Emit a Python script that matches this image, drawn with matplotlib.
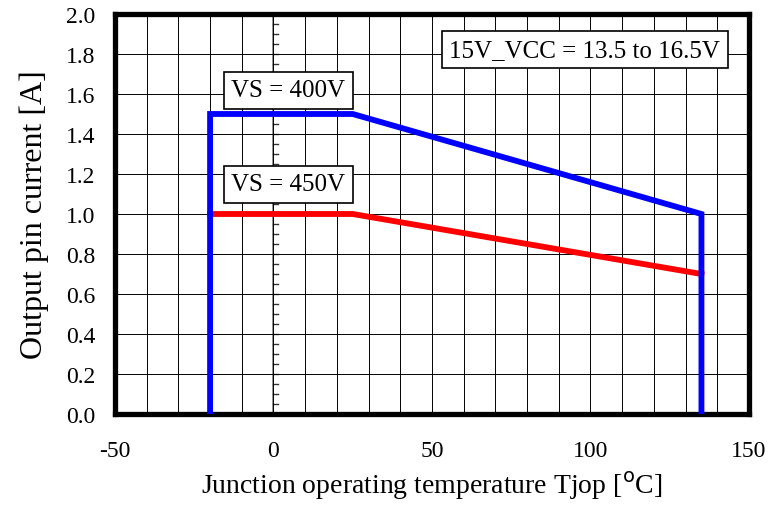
import numpy as np
import matplotlib.pyplot as plt
from matplotlib.ticker import MultipleLocator

plt.rcParams['font.family'] = ['Liberation Serif', 'DejaVu Serif']
plt.rcParams['axes.unicode_minus'] = False

# derating curves
vs400_t = [-20, -20, 25, 135, 135]
vs400_i = [0.0, 1.5, 1.5, 1.0, 0.0]
vs450_t = [-20, 25, 135]
vs450_i = [1.0, 1.0, 0.7]

fig = plt.figure(figsize=(7.69, 5.06), dpi=100)
ax = fig.add_axes([0.1495, 0.1798, 0.8245, 0.7906])

ax.set_xlim(-50, 150)
ax.set_ylim(0, 2.0)
ax.xaxis.set_major_locator(MultipleLocator(50))
ax.xaxis.set_minor_locator(MultipleLocator(10))
ax.yaxis.set_major_locator(MultipleLocator(0.2))
ax.grid(which='both', color='black', linewidth=0.7)
ax.tick_params(which='both', length=0)
ax.tick_params(axis='x', pad=19, labelsize=17)
ax.tick_params(axis='y', pad=14, labelsize=17)
ax.yaxis.set_major_formatter(plt.FuncFormatter(lambda v, p: '%.1f' % v))

# y axis at x=0 with small ticks
ax.axvline(0, color='gray', linewidth=1.2, zorder=1)
for yv in np.arange(0.05, 2.0, 0.05):
    ax.plot([0, 1.5], [yv, yv], color='#333333', linewidth=1.0, zorder=1)

for s in ax.spines.values():
    s.set_linewidth(3.8)
    s.set_color('black')

ax.plot(vs400_t, vs400_i, color='#0000ff', linewidth=4.2, zorder=3,
        solid_joinstyle='miter')
ax.plot(vs450_t, vs450_i, color='#ff0000', linewidth=4.2, zorder=2,
        solid_joinstyle='miter')

box = dict(boxstyle='square,pad=0.3', facecolor='white', edgecolor='black', linewidth=1.2)
ax.text(-13.3, 1.618, 'VS = 400V', fontsize=18, va='center', ha='left', bbox=box, zorder=4)
ax.text(-13.3, 1.148, 'VS = 450V', fontsize=18, va='center', ha='left', bbox=box, zorder=4)
ax.text(55.5, 1.82, '15V_VCC = 13.5 to 16.5V', fontsize=18, va='center', ha='left', bbox=box, zorder=4)

ax.set_xlabel('Junction operating temperature Tjop [$^\\mathrm{o}$C]', fontsize=20, labelpad=5)
ax.set_ylabel('Output pin current [A]', fontsize=23, labelpad=12)

fig.savefig('out.png', dpi=100)
